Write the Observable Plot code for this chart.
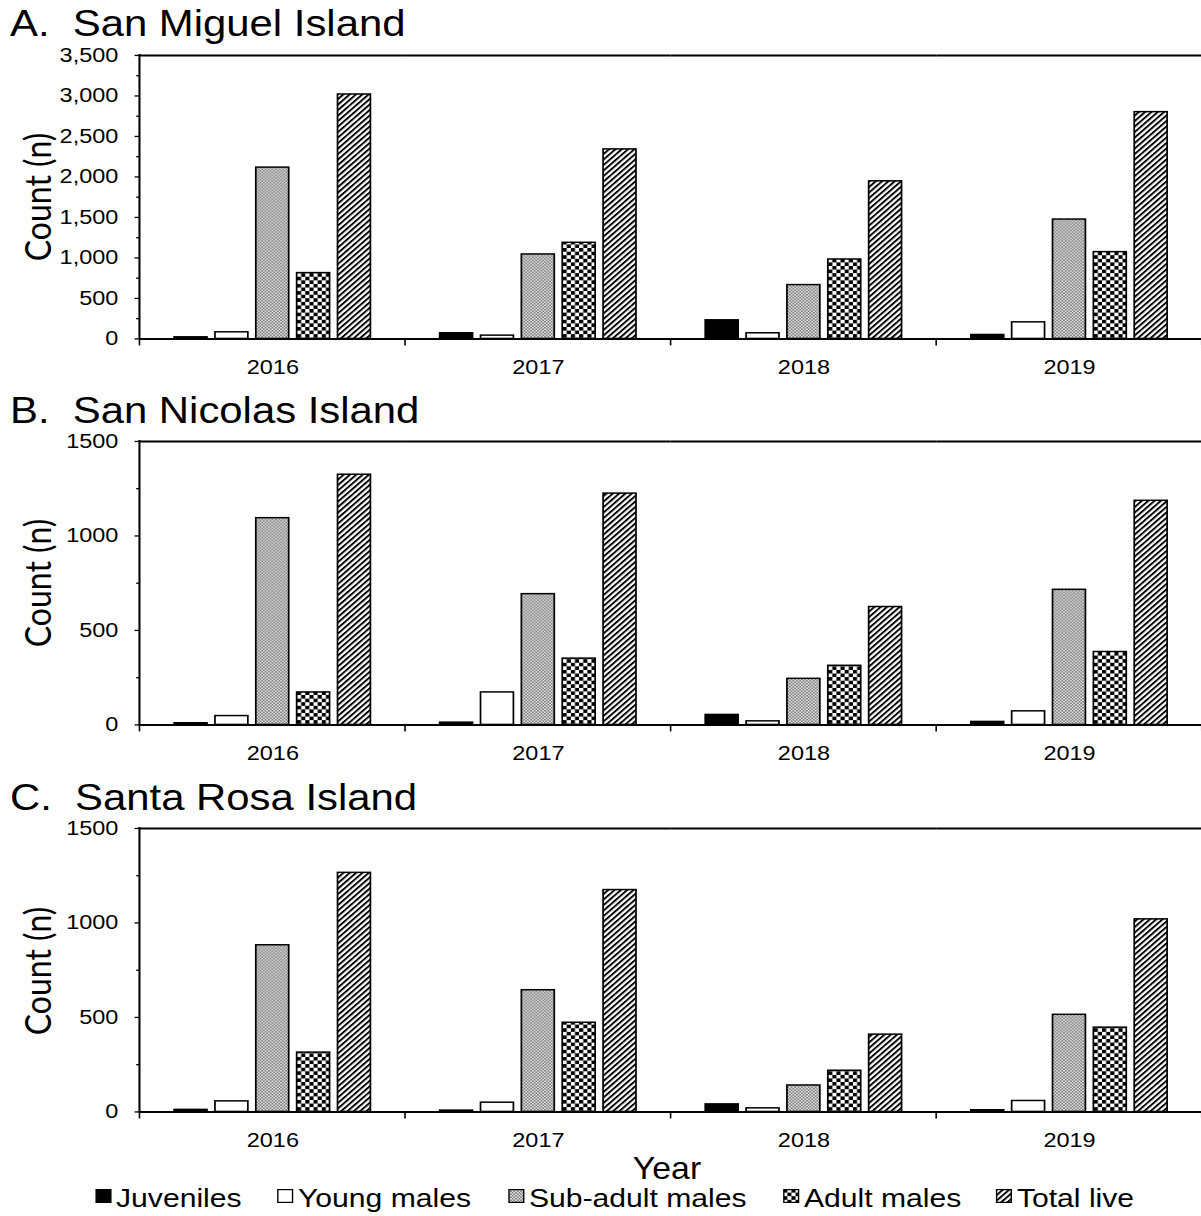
<!DOCTYPE html>
<html>
<head>
<meta charset="utf-8">
<script src="https://cdn.jsdelivr.net/npm/d3@7"></script>
<script src="https://cdn.jsdelivr.net/npm/@observablehq/plot@0.6"></script>
<style>
  html, body { margin: 0; padding: 0; background: #fff; width: 1201px; height: 1216px; overflow: hidden; }
  #root { position: absolute; left: 0; top: 0; width: 1045px; height: 1216px; transform: scaleX(1.15); transform-origin: 0 0; }
  .title { position: absolute; left: 8.7px; font-family: "Liberation Sans", Arial, sans-serif; font-size: 36.4px; line-height: 1; white-space: pre; color: #000; }
  .ylab { position: absolute; font-family: Lato, "Open Sans", sans-serif; font-size: 32px; line-height: 1; white-space: nowrap; color: #000; transform: translate(-50%, -50%) rotate(-90deg); }
  .panel { position: absolute; left: 0; }
  .xtitle { position: absolute; font-family: "Liberation Sans Narrow", "Liberation Sans", Arial, sans-serif; font-size: 32px; line-height: 1; white-space: nowrap; transform: translateX(-50%) scaleX(0.92); }
  .li { position: absolute; top: 1185px; height: 28px; }
  .li svg { position: absolute; left: 0; top: 4px; overflow: visible; }
  .li span { position: absolute; left: 18.3px; top: 0; font-family: "Liberation Sans", Arial, sans-serif; font-size: 26.2px; line-height: 1; white-space: nowrap; }
</style>
</head>
<body>
<svg width="0" height="0" style="position:absolute">
  <defs>
    <pattern id="p-sub" width="3" height="3" patternUnits="userSpaceOnUse">
      <rect width="3" height="3" fill="#e2e2e2"/>
      <rect x="0" y="0" width="1.5" height="1.5" fill="#7c7c7c"/>
      <rect x="1.5" y="1.5" width="1.5" height="1.5" fill="#7c7c7c"/>
    </pattern>
    <pattern id="p-adult" width="7.2" height="7.2" patternUnits="userSpaceOnUse">
      <rect width="7.2" height="7.2" fill="#fff"/>
      <rect x="0" y="0" width="3.6" height="3.6" fill="#000"/>
      <rect x="3.6" y="3.6" width="3.6" height="3.6" fill="#000"/>
    </pattern>
    <pattern id="p-total" width="3.9" height="3.9" patternUnits="userSpaceOnUse" patternTransform="rotate(45)">
      <rect width="3.9" height="3.9" fill="#fff"/>
      <rect width="1.8" height="3.9" fill="#000"/>
    </pattern>
  </defs>
</svg>
<div id="root"></div>
<script>
// ---------- data ----------
const years = ["2016", "2017", "2018", "2019"];
const groups = ["Juveniles", "Young males", "Sub-adult males", "Adult males", "Total live"];

// A. San Miguel Island
const smJuveniles     = [20, 70, 230, 49];
const smYoungMales    = [82, 41, 70, 205];
const smSubAdultMales = [2115, 1043, 665, 1474];
const smAdultMales    = [813, 1187, 981, 1072];
const smTotalLive     = [3018, 2340, 1946, 2800];

// B. San Nicolas Island
const snJuveniles     = [9, 12, 53, 16];
const snYoungMales    = [47, 172, 19, 72];
const snSubAdultMales = [1094, 692, 244, 715];
const snAdultMales    = [172, 351, 313, 386];
const snTotalLive     = [1324, 1224, 624, 1186];

// C. Santa Rosa Island
const srJuveniles     = [11, 7, 40, 9];
const srYoungMales    = [56, 49, 19, 58];
const srSubAdultMales = [882, 644, 140, 514];
const srAdultMales    = [314, 472, 218, 446];
const srTotalLive     = [1265, 1174, 409, 1019];

const yTicksA = [0, 500, 1000, 1500, 2000, 2500, 3000, 3500];
const yMinorA = [250, 750, 1250, 1750, 2250, 2750, 3250];
const yTicksBC = [0, 500, 1000, 1500];
const yMinorBC = [250, 750, 1250];

const panelTitles = ["A.  San Miguel Island", "B.  San Nicolas Island", "C.  Santa Rosa Island"];
const yLabel = "Count (n)";
const xLabel = "Year";

// ---------- style / layout ----------
const groupFills = ["#000", "#fff", "url(#p-sub)", "url(#p-adult)", "url(#p-total)"];
const W = 1048.7, ML = 121.7, H = 344.5, MT = 15, PH = 284.5;
const panelTops = [40, 426, 813.3];
const titleTops = [6.2, 393.2, 780.2];
const legendLefts = [82.6, 240.8, 441.7, 680.8, 866];

const root = document.getElementById("root");

function makePanel(series, yTicks, yMinor, fmt, top, titleTop, title) {
  const yMax = yTicks[yTicks.length - 1];
  const data = [];
  series.forEach((vals, gi) => vals.forEach((v, yi) => data.push({year: years[yi], group: groups[gi], value: v})));

  const chart = Plot.plot({
    width: W, height: H,
    marginLeft: ML, marginRight: 0, marginTop: MT, marginBottom: H - MT - PH,
    style: {fontFamily: "'Liberation Sans', Arial, sans-serif", fontSize: "20.5px", color: "#000", background: "none", overflow: "visible"},
    fx: {domain: years, padding: 0, round: false},
    x: {domain: groups, paddingInner: 0.195, paddingOuter: 0.8475, axis: null, round: false},
    y: {domain: [0, yMax]},
    color: {domain: groups, range: groupFills},
    marks: [
      Plot.barY(data, {fx: "year", x: "group", y: "value", fill: "group", stroke: "#000", strokeWidth: 1.5}),
      Plot.ruleY([0, yMax], {stroke: "#000", strokeWidth: 2}),
      Plot.axisY(yMinor, {tickSize: 2.9, tickFormat: () => "", label: null, strokeWidth: 1.3}),
      Plot.axisY(yTicks, {tickSize: 4.3, tickPadding: 14.6, tickFormat: fmt, label: null, strokeWidth: 1.3}),
      Plot.axisFx({anchor: "bottom", tickSize: 0, tickPadding: 21, label: null})
    ]
  });

  const wrap = document.createElement("div");
  wrap.className = "panel";
  wrap.style.top = top + "px";
  wrap.appendChild(chart);
  root.appendChild(wrap);

  // axis line on the left and category-boundary ticks, derived from the plot's scales
  const svg = d3.select(chart);
  const fx = chart.scale("fx"), y = chart.scale("y");
  const y0 = y.apply(0), y1 = y.apply(yMax);
  const step = (fx.range[1] - fx.range[0]) / years.length;
  const xs = years.map(d => fx.apply(d));
  xs.push(xs[xs.length - 1] + step);
  svg.append("g").selectAll("line").data(xs).join("line")
    .attr("x1", d => d).attr("x2", d => d).attr("y1", y0).attr("y2", y0 + 7)
    .attr("stroke", "#000").attr("stroke-width", 1.4);
  svg.append("line").attr("x1", xs[0]).attr("x2", xs[0]).attr("y1", y1 - 1).attr("y2", y0 + 1)
    .attr("stroke", "#000").attr("stroke-width", 1.8);

  const t = document.createElement("div");
  t.className = "title";
  t.style.top = titleTop + "px";
  t.textContent = title;
  root.appendChild(t);

  const yl = document.createElement("div");
  yl.className = "ylab";
  yl.style.left = "32px";
  yl.style.top = (top + (y0 + y1) / 2) + "px";
  yl.textContent = yLabel;
  root.appendChild(yl);
}

makePanel([smJuveniles, smYoungMales, smSubAdultMales, smAdultMales, smTotalLive], yTicksA, yMinorA, d3.format(","), panelTops[0], titleTops[0], panelTitles[0]);
makePanel([snJuveniles, snYoungMales, snSubAdultMales, snAdultMales, snTotalLive], yTicksBC, yMinorBC, d3.format("d"), panelTops[1], titleTops[1], panelTitles[1]);
makePanel([srJuveniles, srYoungMales, srSubAdultMales, srAdultMales, srTotalLive], yTicksBC, yMinorBC, d3.format("d"), panelTops[2], titleTops[2], panelTitles[2]);

// x-axis title
const xt = document.createElement("div");
xt.className = "xtitle";
xt.style.left = "580px";
xt.style.top = (1179 - 0.8465 * 32) + "px";
xt.textContent = xLabel;
root.appendChild(xt);

// legend
groups.forEach((g, i) => {
  const item = document.createElement("div");
  item.className = "li";
  item.style.left = legendLefts[i] + "px";
  item.innerHTML = `<svg width="14" height="14"><rect x="0.6" y="0.6" width="12.8" height="12.8" fill="${groupFills[i]}" stroke="#000" stroke-width="1.2"/></svg><span></span>`;
  item.querySelector("span").textContent = g;
  root.appendChild(item);
});
</script>
</body>
</html>
